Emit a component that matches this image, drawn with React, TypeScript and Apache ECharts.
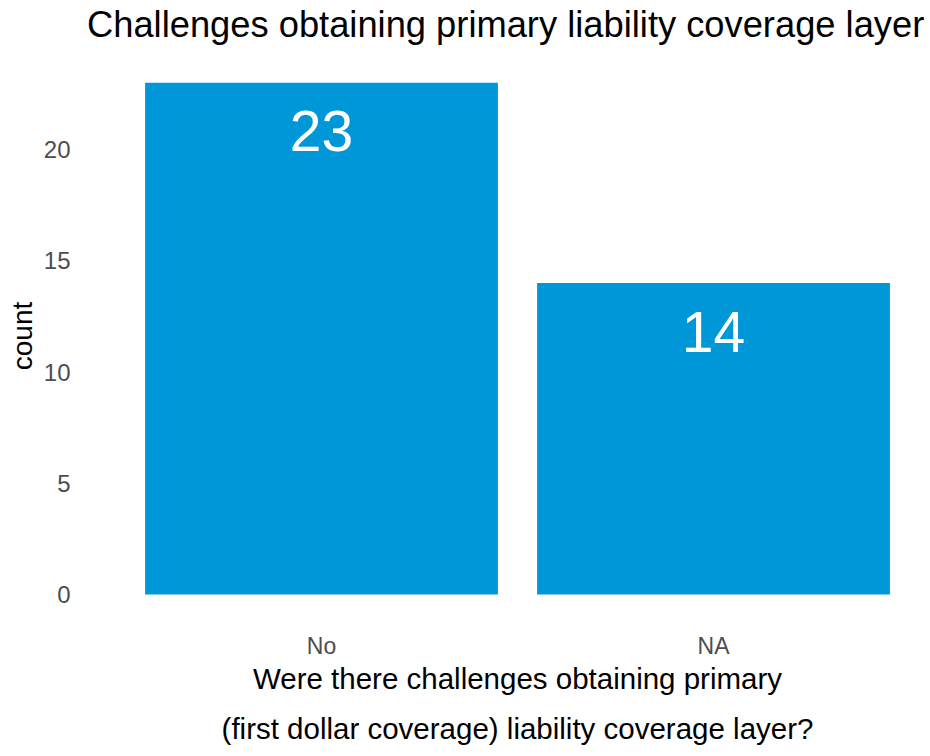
import React, { useEffect, useRef } from "react";
import * as echarts from "echarts";

const titleText = "Challenges obtaining primary liability coverage layer";
const categories = ["No", "NA"];
const counts = [23, 14];
const yTicks = [0, 5, 10, 15, 20];
const xAxisTitle = "Were there challenges obtaining primary\n(first dollar coverage) liability coverage layer?";
const yAxisTitle = "count";

const FONT = "'Liberation Sans', Arial, Helvetica, sans-serif";

export default function App() {
  const ref = useRef<HTMLDivElement>(null);
  useEffect(() => {
    if (!ref.current) return;
    const chart = echarts.init(ref.current, undefined, { renderer: "svg" });
    chart.setOption({
      animation: false,
      backgroundColor: "#ffffff",
      title: {
        text: titleText,
        left: 87,
        top: 6,
        padding: 0,
        textStyle: { fontFamily: FONT, fontSize: 36.3, fontWeight: "normal", color: "#000000", lineHeight: 36 },
      },
      grid: { left: 125.5, right: 20.5, top: 60.5, bottom: 161.5, containLabel: false, outerBoundsMode: "none" },
      xAxis: {
        type: "category",
        data: categories,
        axisLine: { show: false },
        axisTick: { show: false },
        axisLabel: { margin: 39.5, fontFamily: FONT, fontSize: 23, color: "#4D4D4D", lineHeight: 23 },
        name: xAxisTitle,
        nameLocation: "middle",
        nameGap: 59,
        nameMoveOverlap: false,
        nameTextStyle: { fontFamily: FONT, fontSize: 29.5, color: "#000000", lineHeight: 50 },
      },
      yAxis: {
        type: "value",
        min: 0,
        max: 24,
        interval: 5,
        axisLine: { show: false },
        axisTick: { show: false },
        splitLine: { show: false },
        axisLabel: {
          margin: 55,
          fontFamily: FONT,
          fontSize: 24,
          color: "#4D4D4D",
          formatter: (v: number) => (yTicks.includes(v) ? String(v) : ""),
        },
      },
      graphic: [
        {
          type: "text",
          x: 22,
          y: 336,
          rotation: Math.PI / 2,
          style: {
            text: yAxisTitle,
            fontFamily: FONT,
            fontSize: 28,
            fill: "#000000",
            align: "center",
            verticalAlign: "middle",
          },
        },
      ],
      series: [
        {
          type: "bar",
          data: counts,
          barCategoryGap: "10%",
          itemStyle: { color: "#0097D9" },
          label: {
            show: true,
            position: "insideTop",
            distance: 20,
            fontFamily: FONT,
            fontSize: 57,
            lineHeight: 57,
            color: "#FFFFFF",
          },
        },
      ],
    });
    return () => chart.dispose();
  }, []);
  return (
    <div
      ref={ref}
      style={{ position: "absolute", left: 0, top: 0, width: 930, height: 756 }}
    />
  );
}
